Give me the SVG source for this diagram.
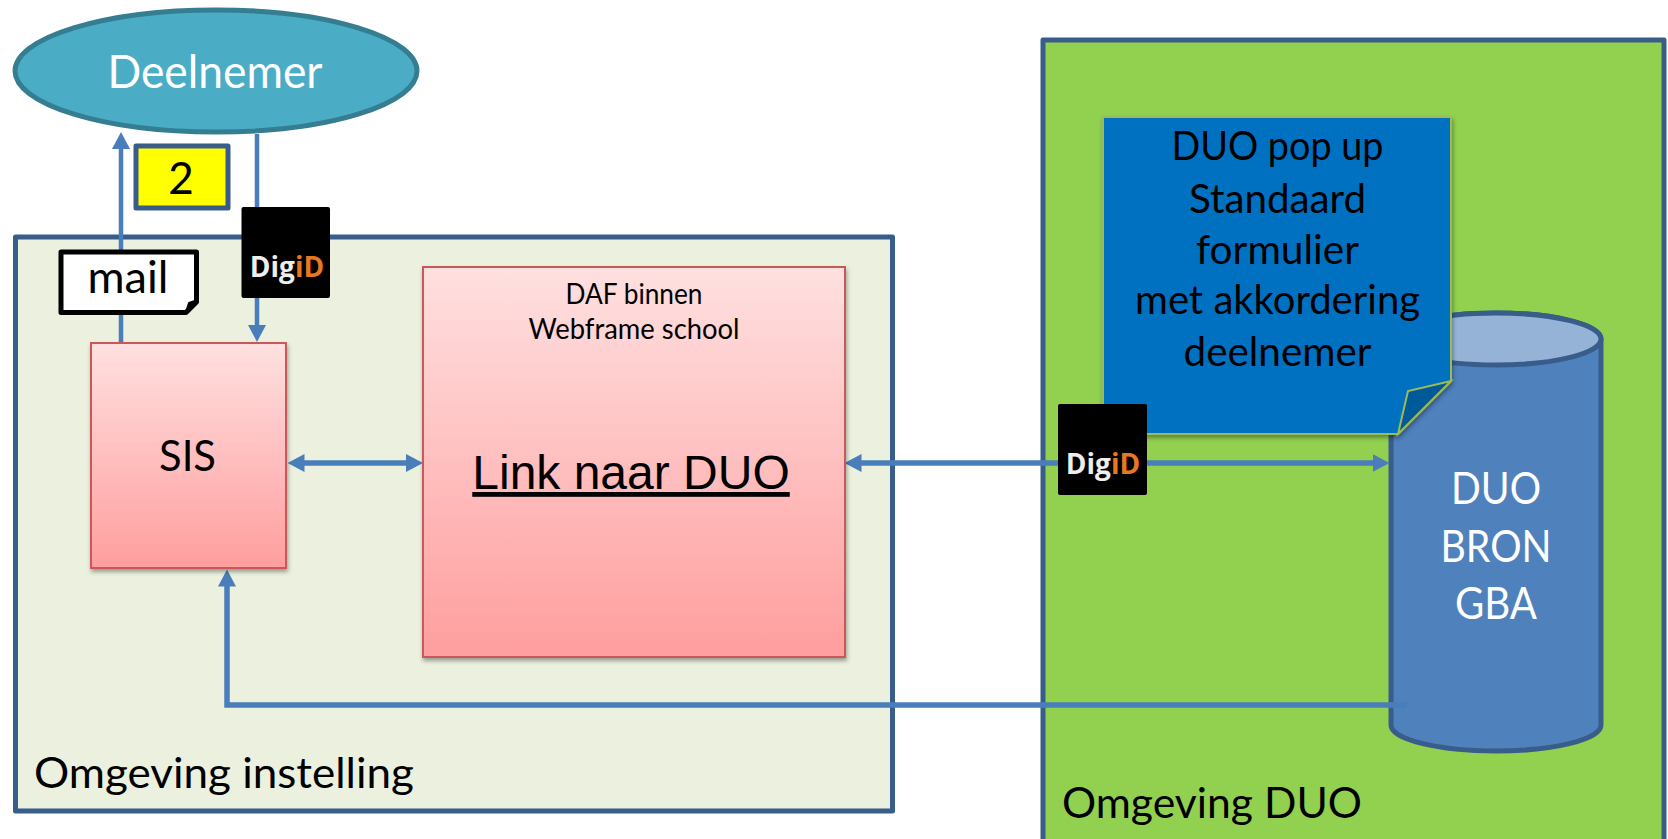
<svg xmlns="http://www.w3.org/2000/svg" width="1668" height="839" viewBox="0 0 1668 839">
<style>
text{font-family:"Lato","Carlito","Liberation Sans",sans-serif;text-anchor:middle;fill:#000}
.w{fill:#fff}
.box{stroke:#385d8a;stroke-width:5;stroke-linejoin:round}
.pink{fill:url(#pg);stroke:#c9595a;stroke-width:2;filter:url(#sh)}
.c{fill:none;stroke:#4a7ebb;stroke-width:5.500}
.t{stroke-width:4.500}
.dg{fill:#000}
.dgt{font-family:"Open Sans",sans-serif;font-weight:700;font-size:28px}
</style>
<defs>
<linearGradient id="pg" x1="0" y1="0" x2="0" y2="1"><stop offset="0" stop-color="#ffe0e0"/><stop offset="1" stop-color="#ff9e9e"/></linearGradient>
<filter id="sh" x="-5%" y="-5%" width="110%" height="110%"><feDropShadow dx="1" dy="3" stdDeviation="2" flood-color="#000" flood-opacity=".35"/></filter>
<marker id="a" markerUnits="userSpaceOnUse" markerWidth="17" markerHeight="18" refX="8" refY="9" orient="auto-start-reverse"><path d="M0 0L17 9L0 18Z" fill="#4a7ebb"/></marker>
</defs>
<rect id="omgeving-instelling" class="box" x="15.500" y="237" width="877" height="574" fill="#ebf1de"/>
<rect id="omgeving-duo" class="box" x="1043" y="40" width="621" height="810" fill="#92d050"/>
<g id="duo-bron">
<path class="box" d="M1391 339A105 26 0 0 1 1601 339L1601 725A105 26 0 0 1 1391 725Z" fill="#4f81bd"/>
<ellipse class="box" cx="1496" cy="339" rx="105" ry="26" fill="#95b3d7"/>
<text class="w" x="1496" y="504" font-size="45" textLength="90" lengthAdjust="spacingAndGlyphs">DUO</text>
<text class="w" x="1496" y="562" font-size="45" textLength="111" lengthAdjust="spacingAndGlyphs">BRON</text>
<text class="w" x="1496" y="619" font-size="45" textLength="82" lengthAdjust="spacingAndGlyphs">GBA</text>
</g>
<g id="connectors">
<path class="c t" d="M121 342V141" marker-end="url(#a)"/>
<path class="c t" d="M257 134V333" marker-end="url(#a)"/>
<path class="c" d="M296.500 463H414" marker-start="url(#a)" marker-end="url(#a)"/>
<path class="c" d="M853.500 463H1380.500" marker-start="url(#a)" marker-end="url(#a)"/>
<path class="c" d="M1407 705H227V578.500" marker-end="url(#a)"/>
</g>
<g id="deelnemer">
<ellipse cx="216" cy="71" rx="201" ry="61" fill="#4bacc6" stroke="#357d91" stroke-width="5"/>
<text class="w" x="215" y="88" font-size="46" textLength="215" lengthAdjust="spacingAndGlyphs">Deelnemer</text>
</g>
<g id="badge-2">
<rect class="box" x="136" y="146" width="92" height="62" fill="#ff0"/>
<text x="181" y="194" font-size="44">2</text>
</g>
<g id="digid-1">
<rect class="dg" x="241.500" y="207" width="88.500" height="91" rx="2"/>
<text class="dgt" x="287" y="277"><tspan fill="#eee">Dig</tspan><tspan fill="#e87722">iD</tspan></text>
</g>
<g id="mail">
<path d="M61 252H196.500V302L186 312.500H61Z" fill="#fff" stroke="#000" stroke-width="5" stroke-linejoin="round"/>
<path d="M186 312L189 303L198 300Z" fill="#000" stroke="#000" stroke-width="2" stroke-linejoin="round"/>
<text x="128" y="293" font-size="45" textLength="81" lengthAdjust="spacingAndGlyphs">mail</text>
</g>
<g id="sis">
<rect class="pink" x="91" y="343" width="195" height="225"/>
<text x="187.500" y="471" font-size="42" textLength="57" lengthAdjust="spacingAndGlyphs">SIS</text>
</g>
<g id="link-naar-duo">
<rect class="pink" x="423" y="267" width="422" height="390"/>
<text x="634" y="304" font-size="28" textLength="137" lengthAdjust="spacingAndGlyphs">DAF binnen</text>
<text x="634" y="339" font-size="28" textLength="211" lengthAdjust="spacingAndGlyphs">Webframe school</text>
<text x="631" y="489" font-size="48" text-decoration="underline" style="font-family:'Liberation Sans',Arial,sans-serif">Link naar DUO</text>
</g>
<g id="duo-popup">
<path d="M1103 117H1451V381L1398 434H1103Z" fill="#0070c0" stroke="#9bbb59" stroke-width="2" filter="url(#sh)"/>
<path d="M1451 381L1408 391L1398 434Z" fill="#005a9a" stroke="#9bbb59" stroke-width="2"/>
<text x="1277.500" y="160" font-size="40" textLength="212" lengthAdjust="spacingAndGlyphs">DUO pop up</text>
<text x="1277.500" y="213" font-size="40" textLength="177" lengthAdjust="spacingAndGlyphs">Standaard</text>
<text x="1277.500" y="264" font-size="40" textLength="163" lengthAdjust="spacingAndGlyphs">formulier</text>
<text x="1277.500" y="314" font-size="40" textLength="285" lengthAdjust="spacingAndGlyphs">met akkordering</text>
<text x="1277.500" y="366" font-size="40" textLength="188" lengthAdjust="spacingAndGlyphs">deelnemer</text>
</g>
<g id="digid-2">
<rect class="dg" x="1058" y="404" width="89" height="91" rx="2"/>
<text class="dgt" x="1103" y="474"><tspan fill="#eee">Dig</tspan><tspan fill="#e87722">iD</tspan></text>
</g>
<text x="224" y="788" font-size="43" textLength="380" lengthAdjust="spacingAndGlyphs">Omgeving instelling</text>
<text x="1212" y="818" font-size="43" textLength="300" lengthAdjust="spacingAndGlyphs">Omgeving DUO</text>
</svg>
